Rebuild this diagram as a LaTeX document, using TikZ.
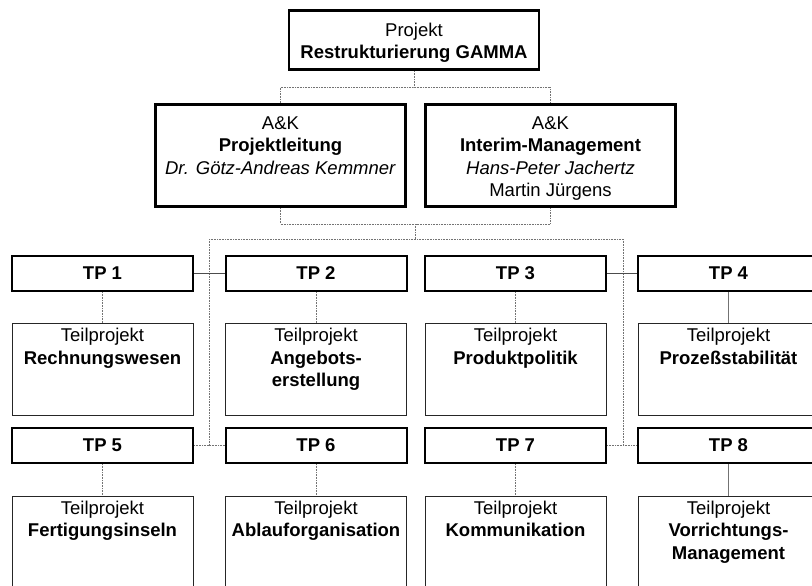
\documentclass[tikz,border=0pt]{standalone}
\usepackage{fontspec}
\setmainfont{Liberation Sans}
\usetikzlibrary{calc}
\newcommand{\intext}[4]{\parbox[c][#2][t]{#1}{\centering\vspace*{#3}#4}}
\newcommand{\subtext}[1]{\intext{181pt}{91.5pt}{5pt}{Teilprojekt\\\textbf{#1}}}
\tikzset{
	headbox/.style={draw, line width=2.6pt, inner sep=0pt},
	tpbox/.style={draw, line width=2pt, minimum width=181pt, minimum height=35pt, inner sep=0pt, font=\fontsize{18.5pt}{22.5pt}\selectfont\bfseries},
	subbox/.style={draw=black!85, line width=.9pt, inner sep=0pt},
	link/.style={draw=black!55, line width=.6pt, dash pattern=on .8pt off .8pt},
	tplink/.style={draw=black!70, line width=.8pt},
	sublink/.style={draw=black!55, line width=.6pt}
}

\begin{document}
\begin{tikzpicture}[x=1pt, y=-1pt, font=\fontsize{18.5pt}{22.5pt}\selectfont]
	\useasboundingbox (0, 0) rectangle (812, 586);
	\fill[white] (0, 0) rectangle (812, 586);

	\node[headbox] (gamma)		at (414, 40)		{\intext{250pt}{59.5pt}{12.5pt}{Projekt\\\textbf{Restrukturierung GAMMA}}};
	\node[headbox] (leitung)	at (280.5, 155.5)	{\intext{250pt}{102.5pt}{12pt}{A\&K\\\textbf{Projektleitung}\\\textit{Dr. Götz-Andreas Kemmner}}};
	\node[headbox] (interim)	at (550.5, 155.5)	{\intext{250pt}{102.5pt}{12pt}{A\&K\\\textbf{Interim-Management}\\\textit{Hans-Peter Jachertz}\\Martin Jürgens}};

	\node[tpbox] (tp1) at (102.5, 273.5) {TP 1};
	\node[tpbox] (tp2) at (316, 273.5) {TP 2};
	\node[tpbox] (tp3) at (515.5, 273.5) {TP 3};
	\node[tpbox] (tp4) at (728.5, 273.5) {TP 4};
	\node[tpbox] (tp5) at (102.5, 445.5) {TP 5};
	\node[tpbox] (tp6) at (316, 445.5) {TP 6};
	\node[tpbox] (tp7) at (515.5, 445.5) {TP 7};
	\node[tpbox] (tp8) at (728.5, 445.5) {TP 8};

	\node[subbox] (sp1) at (102.5, 369.25) {\subtext{Rechnungswesen}};
	\node[subbox] (sp2) at (316, 369.25) {\subtext{Angebots-\\erstellung}};
	\node[subbox] (sp3) at (515.5, 369.25) {\subtext{Produktpolitik}};
	\node[subbox] (sp4) at (728.5, 369.25) {\subtext{Prozeßstabilität}};
	\node[subbox] (sp5) at (102.5, 541.75) {\subtext{Fertigungsinseln}};
	\node[subbox] (sp6) at (316, 541.75) {\subtext{Ablauforganisation}};
	\node[subbox] (sp7) at (515.5, 541.75) {\subtext{Kommunikation}};
	\node[subbox] (sp8) at (728.5, 541.75) {\subtext{Vorrichtungs-\\Management}};

	\coordinate (upper) at (414, 87);
	\coordinate (lower) at (415.5, 224);
	\coordinate (fork)	at (415.5, 239);
	\coordinate (forkl) at (209, 239);
	\coordinate (forkr) at (623, 239);

	\draw[link] (gamma) -- (upper);
	\draw[link] (leitung.north) |- (upper) -| (interim.north);
	\draw[link] (leitung.south) |- (lower) -| (interim.south);
	\draw[link] (lower) -- (fork);
	\draw[link] (forkl) -- (forkr);
	\draw[link] (forkl) -- (forkl |- tp5.east);
	\draw[link] (forkr) -- (forkr |- tp8.west);

	\draw[tplink] (tp1) -- (tp2);
	\draw[tplink] (tp3) -- (tp4);
	\draw[link] (tp5) -- (tp6);
	\draw[link] (tp7) -- (tp8);

	\draw[link] (tp1) -- (sp1);
	\draw[link] (tp2) -- (sp2);
	\draw[link] (tp3) -- (sp3);
	\draw[sublink] (tp4) -- (sp4);
	\draw[link] (tp5) -- (sp5);
	\draw[link] (tp6) -- (sp6);
	\draw[link] (tp7) -- (sp7);
	\draw[sublink] (tp8) -- (sp8);
\end{tikzpicture}
\end{document}
